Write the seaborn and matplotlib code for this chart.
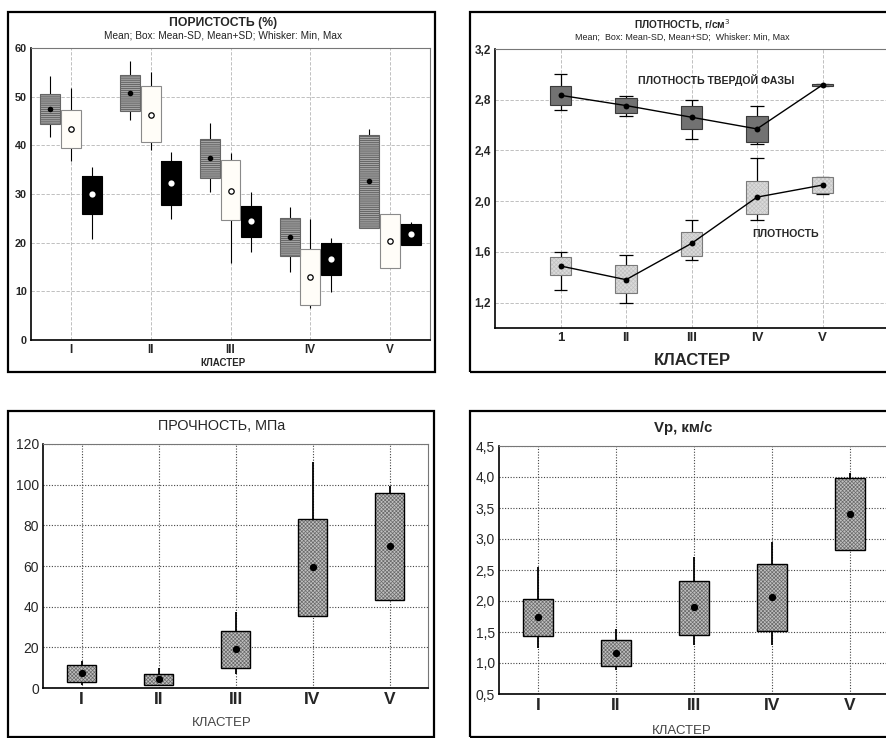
import matplotlib
matplotlib.use("Agg")
import matplotlib.pyplot as plt
import numpy as np
import pandas as pd
import seaborn as sns
from matplotlib.patches import Rectangle

sns.set_style("white")
plt.rcParams["font.family"] = ["Liberation Sans", "DejaVu Sans"]
plt.rcParams["hatch.linewidth"] = 0.5

W, H = 886, 738

# -----------------------------
# Data
# -----------------------------
clusters = ["I", "II", "III", "IV", "V"]
clusters_tr = ["1", "II", "III", "IV", "V"]

# porosity, three groups per cluster
por_gray_mean = [47.4, 50.8, 37.3, 21.1, 32.6]
por_gray_lo = [44.3, 47.0, 33.2, 17.2, 23.1]
por_gray_hi = [50.5, 54.5, 41.2, 25.0, 42.1]
por_gray_min = [41.7, 45.3, 30.5, 13.9, 23.1]
por_gray_max = [54.2, 57.3, 44.5, 27.4, 43.3]

por_white_mean = [43.3, 46.3, 30.7, 12.9, 20.4]
por_white_lo = [39.5, 40.6, 24.6, 7.1, 14.8]
por_white_hi = [47.3, 52.1, 36.9, 18.8, 25.9]
por_white_min = [36.8, 39.0, 15.9, 6.5, 14.8]
por_white_max = [51.8, 55.1, 38.4, 24.8, 25.9]

por_black_mean = [29.9, 32.3, 24.4, 16.7, 21.8]
por_black_lo = [25.9, 27.8, 21.1, 13.3, 19.6]
por_black_hi = [33.8, 36.7, 27.6, 20.0, 23.9]
por_black_min = [20.7, 24.9, 18.0, 9.8, 19.6]
por_black_max = [35.6, 38.6, 30.4, 21.0, 24.3]

# density of solid phase / bulk density
solid_mean = [2.835, 2.754, 2.662, 2.57, 2.917]
solid_lo = [2.756, 2.693, 2.567, 2.465, 2.905]
solid_hi = [2.911, 2.81, 2.751, 2.672, 2.925]
solid_min = [2.72, 2.672, 2.49, 2.452, 2.905]
solid_max = [3.0, 2.83, 2.80, 2.749, 2.925]

dens_mean = [1.489, 1.381, 1.667, 2.032, 2.127]
dens_lo = [1.415, 1.273, 1.57, 1.898, 2.064]
dens_hi = [1.562, 1.494, 1.759, 2.158, 2.19]
dens_min = [1.302, 1.2, 1.533, 1.848, 2.058]
dens_max = [1.599, 1.578, 1.851, 2.342, 2.19]

# strength, MPa
str_mean = [7.2, 4.4, 19.2, 59.7, 70.0]
str_lo = [2.95, 1.5, 9.8, 35.6, 43.4]
str_hi = [11.3, 6.9, 28.2, 83.1, 95.7]
str_min = [1.6, 1.5, 7.0, 35.6, 43.4]
str_max = [13.1, 9.7, 37.2, 111.0, 99.2]

# Vp, km/s
vp_mean = [1.746, 1.16, 1.907, 2.068, 3.405]
vp_lo = [1.44, 0.95, 1.456, 1.515, 2.825]
vp_hi = [2.025, 1.37, 2.33, 2.594, 3.98]
vp_min = [1.25, 0.88, 1.284, 1.289, 2.825]
vp_max = [2.55, 1.552, 2.707, 2.948, 4.06]


def px_axes(fig, left, top, right, bottom):
    return fig.add_axes([left / W, 1 - bottom / H, (right - left) / W, (bottom - top) / H])


def ftext(fig, x, y, s, **kw):
    fig.text(x / W, 1 - y / H, s, ha="center", va="center", **kw)


def border(fig, left, top, right, bottom):
    fig.add_artist(Rectangle((left / W, 1 - bottom / H), (right - left) / W,
                             (bottom - top) / H, transform=fig.transFigure,
                             fill=False, lw=1.6, ec="black", zorder=10))


def draw_boxes(ax, pos, lo, hi, mn, mx, width, face, edge, hatch=None,
               hatch_color=None, whisker_lw=0.8, cap=0.0, edge_lw=0.8):
    pos = np.asarray(pos, dtype=float)
    lo = np.asarray(lo)
    hi = np.asarray(hi)
    ax.vlines(pos, mn, mx, color="black", lw=whisker_lw, zorder=2)
    if cap:
        ax.hlines(mn, pos - cap / 2, pos + cap / 2, color="black", lw=whisker_lw, zorder=2)
        ax.hlines(mx, pos - cap / 2, pos + cap / 2, color="black", lw=whisker_lw, zorder=2)
    ax.bar(pos, hi - lo, width, bottom=lo, color=face,
           edgecolor=hatch_color or face, hatch=hatch, linewidth=0, zorder=3)
    ax.bar(pos, hi - lo, width, bottom=lo, facecolor="none",
           edgecolor=edge, linewidth=edge_lw, zorder=4)


def style_axes(ax, xlabels, xlim, ylim, yticks, ylabels, xfs, yfs, yweight,
               grid_kw):
    ax.set_xlim(*xlim)
    ax.set_ylim(*ylim)
    ax.set_xticks(range(len(xlabels)), xlabels, fontsize=xfs, fontweight="bold")
    ax.set_yticks(yticks, ylabels, fontsize=yfs, fontweight=yweight)
    ax.tick_params(length=0, pad=3)
    ax.grid(True, **grid_kw)
    ax.set_axisbelow(True)
    for side in ["left", "bottom"]:
        ax.spines[side].set_color("black")
        ax.spines[side].set_linewidth(1.2)
    for side in ["top", "right"]:
        ax.spines[side].set_color("#777777")
        ax.spines[side].set_linewidth(0.8)
    ax.set_xlabel("")
    ax.set_ylabel("")


fig = plt.figure(figsize=(W / 100, H / 100), dpi=100)
fig.patch.set_facecolor("white")

pos = np.arange(len(clusters))

# -----------------------------
# Porosity (top left)
# -----------------------------
border(fig, 8, 12, 435, 372)
ax1 = px_axes(fig, 31, 48, 430, 340)
off = 0.26
bw = 0.25
draw_boxes(ax1, pos - off, por_gray_lo, por_gray_hi, por_gray_min, por_gray_max,
           bw, "#a4a4a4", "#666666", hatch="--------", hatch_color="#4e4e4e")
draw_boxes(ax1, pos, por_white_lo, por_white_hi, por_white_min, por_white_max,
           bw, "#fffdf8", "#8a8a8a")
draw_boxes(ax1, pos + off, por_black_lo, por_black_hi, por_black_min, por_black_max,
           bw, "black", "black")
df_por = pd.DataFrame({"pos": pos, "gray": por_gray_mean,
                       "white": por_white_mean, "black": por_black_mean})
sns.scatterplot(x=df_por["pos"] - off, y=df_por["gray"], ax=ax1, color="black",
                s=16, linewidth=0, zorder=5)
sns.scatterplot(x=df_por["pos"], y=df_por["white"], ax=ax1, color="white",
                edgecolor="black", s=15, linewidth=0.9, zorder=5)
sns.scatterplot(x=df_por["pos"] + off, y=df_por["black"], ax=ax1, color="white",
                s=20, linewidth=0, zorder=5)
style_axes(ax1, clusters, (-0.5, 4.5), (0, 60), range(0, 61, 10),
           [str(v) for v in range(0, 61, 10)], 8.5, 7.8, "bold",
           dict(color="#b5b5b5", lw=0.6, ls=(0, (4, 2))))
ftext(fig, 223, 23, "ПОРИСТОСТЬ (%)", fontsize=8.8, fontweight="bold")
ftext(fig, 223, 36, "Mean; Box: Mean-SD, Mean+SD; Whisker: Min, Max",
      fontsize=7.3, color="#222222")
ftext(fig, 223, 363, "КЛАСТЕР", fontsize=7, fontweight="bold")

# -----------------------------
# Density (top right)
# -----------------------------
border(fig, 470, 12, 900, 372)
ax2 = px_axes(fig, 495, 49, 888, 328)
bw2 = 0.33
draw_boxes(ax2, pos, solid_lo, solid_hi, solid_min, solid_max, bw2,
           "#727272", "#3a3a3a", cap=0.2, whisker_lw=0.9)
draw_boxes(ax2, pos, dens_lo, dens_hi, dens_min, dens_max, bw2,
           "#dadada", "#7a7a7a", hatch="xxxxxxxx", hatch_color="#c2c2c2",
           cap=0.2, whisker_lw=0.9)
df_den = pd.DataFrame({"pos": pos, "solid": solid_mean, "dens": dens_mean})
for col in ["solid", "dens"]:
    sns.lineplot(data=df_den, x="pos", y=col, ax=ax2, color="black", lw=1.0,
                 zorder=5, legend=False)
    sns.scatterplot(data=df_den, x="pos", y=col, ax=ax2, color="black", s=18,
                    linewidth=0, zorder=6)
style_axes(ax2, clusters_tr, (-1, 5), (1.0, 3.2),
           [1.2, 1.6, 2.0, 2.4, 2.8, 3.2],
           ["1,2", "1,6", "2,0", "2,4", "2,8", "3,2"], 9.5, 8.5, "bold",
           dict(color="#b5b5b5", lw=0.6, ls=(0, (4, 2))))
ax2.text(1.19, 2.958, "ПЛОТНОСТЬ ТВЕРДОЙ ФАЗЫ", fontsize=7.6,
         fontweight="bold", va="center", ha="left")
ax2.text(2.92, 1.743, "ПЛОТНОСТЬ", fontsize=7.6, fontweight="bold",
         va="center", ha="left")
ftext(fig, 682, 25, "ПЛОТНОСТЬ, г/см$^3$", fontsize=7.3, fontweight="bold")
ftext(fig, 682, 37, "Mean;  Box: Mean-SD, Mean+SD;  Whisker: Min, Max",
      fontsize=6.4, color="#222222")
ftext(fig, 692, 361, "КЛАСТЕР", fontsize=12, fontweight="bold")

# -----------------------------
# Strength (bottom left)
# -----------------------------
border(fig, 8, 411, 434, 737)
ax3 = px_axes(fig, 43, 444, 428, 688)
bw3 = 0.38
dot_grid = dict(color="#444444", lw=0.8, ls=(0, (1, 1.5)))
draw_boxes(ax3, pos, str_lo, str_hi, str_min, str_max, bw3, "#c0c0c0",
           "black", hatch="xxxxxxxxx", hatch_color="#6a6a6a", whisker_lw=1.3,
           edge_lw=1.0)
df_str = pd.DataFrame({"pos": pos, "mean": str_mean})
sns.scatterplot(data=df_str, x="pos", y="mean", ax=ax3, color="black", s=28,
                linewidth=0, zorder=6)
style_axes(ax3, clusters, (-0.5, 4.5), (0, 120), range(0, 121, 20),
           [str(v) for v in range(0, 121, 20)], 12.5, 10, "medium", dot_grid)
ftext(fig, 222, 426, "ПРОЧНОСТЬ, МПа", fontsize=10.4)
ftext(fig, 222, 723, "КЛАСТЕР", fontsize=9.5, color="#444444")

# -----------------------------
# Vp (bottom right)
# -----------------------------
border(fig, 470, 411, 900, 737)
ax4 = px_axes(fig, 499, 446, 889, 694)
draw_boxes(ax4, pos, vp_lo, vp_hi, vp_min, vp_max, bw3, "#c0c0c0", "black",
           hatch="xxxxxxxxx", hatch_color="#6a6a6a", whisker_lw=1.3, edge_lw=1.0)
df_vp = pd.DataFrame({"pos": pos, "mean": vp_mean})
sns.scatterplot(data=df_vp, x="pos", y="mean", ax=ax4, color="black", s=28,
                linewidth=0, zorder=6)
vp_ticks = [0.5, 1.0, 1.5, 2.0, 2.5, 3.0, 3.5, 4.0, 4.5]
style_axes(ax4, clusters, (-0.5, 4.5), (0.5, 4.5), vp_ticks,
           [f"{v:.1f}".replace(".", ",") for v in vp_ticks], 12.5, 10,
           "medium", dot_grid)
ftext(fig, 683, 428, "Vp, км/с", fontsize=10.8, fontweight="bold")
ftext(fig, 682, 731, "КЛАСТЕР", fontsize=9.5, color="#444444")

fig.savefig("out.png", dpi=100, facecolor="white")
